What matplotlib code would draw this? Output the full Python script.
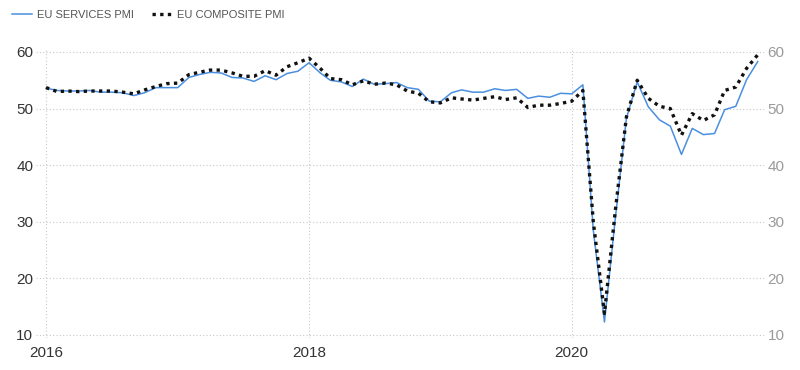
import matplotlib.pyplot as plt
import numpy as np
import pandas as pd

# monthly values, Jan 2016 .. Jun 2021
months = pd.date_range("2016-01-01", "2021-06-01", freq="MS")

services = [
    53.6, 53.2, 53.1, 53.1, 53.2, 52.9, 52.9, 52.8, 52.3, 52.8, 53.7, 53.7,  # 2016
    53.7, 55.5, 56.0, 56.4, 56.3, 55.5, 55.4, 54.8, 55.8, 55.1, 56.2, 56.6,  # 2017
    58.1, 56.3, 55.0, 54.7, 53.9, 55.2, 54.3, 54.4, 54.6, 53.7, 53.4, 51.3,  # 2018
    51.2, 52.8, 53.3, 52.9, 52.9, 53.5, 53.2, 53.4, 51.8, 52.2, 52.0, 52.7,  # 2019
    52.6, 54.2, 28.5, 12.3, 30.5, 48.3, 54.7, 50.3, 48.0, 46.9, 41.9, 46.5,  # 2020
    45.4, 45.6, 49.8, 50.4, 55.1, 58.3,  # 2021
]
composite = [
    53.7, 53.0, 53.1, 53.0, 53.1, 53.1, 53.1, 52.9, 52.6, 53.3, 53.9, 54.4,  # 2016
    54.5, 56.0, 56.4, 56.8, 56.8, 56.3, 55.7, 55.7, 56.7, 55.9, 57.4, 58.1,  # 2017
    58.9, 57.1, 55.3, 55.1, 54.2, 54.9, 54.3, 54.5, 54.2, 53.1, 52.7, 51.2,  # 2018
    51.0, 51.9, 51.7, 51.5, 51.8, 52.1, 51.6, 51.9, 50.2, 50.6, 50.6, 50.9,  # 2019
    51.3, 53.2, 30.0, 13.8, 31.9, 48.5, 55.0, 51.8, 50.4, 50.0, 45.3, 49.1,  # 2020
    47.9, 48.9, 53.2, 53.8, 57.1, 59.5,  # 2021
]

year_ticks = ["2016", "2018", "2020"]
y_ticks = [10, 20, 30, 40, 50, 60]

plt.rcParams["font.family"] = ["Liberation Sans Narrow", "Liberation Sans", "DejaVu Sans"]

fig = plt.figure(figsize=(8, 3.7), dpi=100)
ax = fig.add_axes([0.045, 0.0865, 0.9125, 0.7784])

ax.plot(months, services, color="#4a8fe0", lw=1.1, label="EU SERVICES PMI")
ax.plot(months, composite, color="#111111", lw=2.4, ls=(0, (1, 1.3)),
        label="EU COMPOSITE PMI")

ax.set_xlim(pd.Timestamp("2015-12-04"), pd.Timestamp("2021-06-24"))
ax.set_ylim(9.47, 60.35)
ax.set_xticks([pd.Timestamp(y + "-01-01") for y in year_ticks])
ax.set_xticklabels(year_ticks)
ax.set_yticks(y_ticks)

ax.grid(True, color="#c8c8c8", lw=0.8, ls=(0, (1, 2)))
for s in ax.spines.values():
    s.set_visible(False)
ax.tick_params(length=0, labelsize=11, colors="#333333")
ax.tick_params(axis="x", pad=6)
ax.tick_params(axis="y", pad=2)

ax2 = ax.twinx()
ax2.set_ylim(ax.get_ylim())
ax2.set_yticks(y_ticks)
for s in ax2.spines.values():
    s.set_visible(False)
ax2.tick_params(length=0, labelsize=11, colors="#9a9a9a", pad=1)

fig.legend(loc="upper left", bbox_to_anchor=(0.002, 1.0), ncol=2, frameon=False,
           fontsize=8, handlelength=1.8, handletextpad=0.5, columnspacing=1.6,
           labelcolor="#555555")

fig.savefig("out.png", dpi=100)
